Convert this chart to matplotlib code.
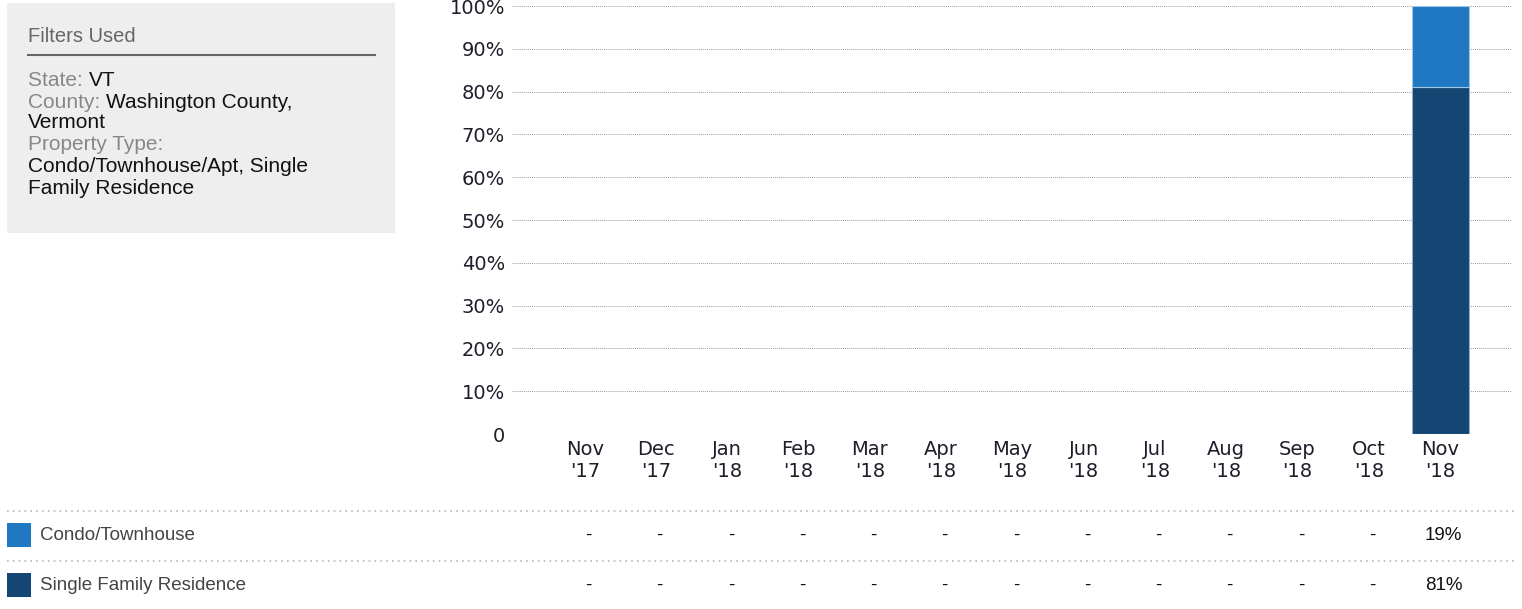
import numpy as np
import matplotlib
matplotlib.use("Agg")
import matplotlib.pyplot as plt
from matplotlib.patches import Rectangle
from matplotlib.transforms import blended_transform_factory

months = ["Nov\n'17", "Dec\n'17", "Jan\n'18", "Feb\n'18", "Mar\n'18", "Apr\n'18",
          "May\n'18", "Jun\n'18", "Jul\n'18", "Aug\n'18", "Sep\n'18", "Oct\n'18", "Nov\n'18"]
condo = [np.nan] * 12 + [19]
single = [np.nan] * 12 + [81]
series_names = ["Condo/Townhouse", "Single Family Residence"]
series_colors = ["#1f78c1", "#144673"]
yticks = [0, 10, 20, 30, 40, 50, 60, 70, 80, 90, 100]
ytick_labels = ["0"] + [f"{v}%" for v in yticks[1:]]

filters = [("State: ", "VT"),
           ("County: ", "Washington County,"),
           ("", "Vermont"),
           ("Property Type:", ""),
           ("", "Condo/Townhouse/Apt, Single"),
           ("", "Family Residence")]

W, H = 1522, 609
fig = plt.figure(figsize=(W / 100, H / 100), dpi=100)

# main chart area
ax = fig.add_axes([512 / W, 1 - 434 / H, 1000 / W, 428 / H])
x = np.arange(len(months))
single_arr = np.array(single, dtype=float)
condo_arr = np.array(condo, dtype=float)
has = ~np.isnan(single_arr)
ax.bar(x[has], single_arr[has], width=0.8, color=series_colors[1],
       edgecolor="#8fb0cc", linewidth=0.8, zorder=3)
ax.bar(x[has], condo_arr[has], bottom=single_arr[has], width=0.8,
       color=series_colors[0], edgecolor="#9ec6e6", linewidth=0.8, zorder=3)

ax.set_xlim(-1.02, 13.01)
ax.set_ylim(0, 100)
ax.set_yticks(yticks)
ax.set_yticklabels(ytick_labels)
ax.set_xticks(x)
ax.set_xticklabels(months)
ax.tick_params(axis="both", length=0, labelsize=14, colors="#1e1e2a")
ax.tick_params(axis="y", pad=5)
ax.tick_params(axis="x", pad=4)
for lab in ax.get_xticklabels() + ax.get_yticklabels():
    lab.set_family("DejaVu Sans")
ax.grid(axis="y", color="#a0a0a0", linestyle=(0, (1, 1)), linewidth=0.7, zorder=0)
ax.set_axisbelow(True)
for s in ax.spines.values():
    s.set_visible(False)
ax.patch.set_alpha(0)

# filter panel
fig.patches.append(Rectangle((7 / W, 1 - 233 / H), 388 / W, 230 / H,
                             transform=fig.transFigure, facecolor="#eeeeee",
                             edgecolor="none", zorder=0))
fig.text(28 / W, 1 - 37 / H, "Filters Used", fontsize=14.5, color="#666666",
         family="Liberation Sans", va="center", ha="left")
fig.add_artist(plt.Line2D([28 / W, 375 / W], [1 - 55 / H, 1 - 55 / H],
                          transform=fig.transFigure, color="#666666", linewidth=1.5))
row_y = [80, 102, 122, 145, 167, 189]
renderer = fig.canvas.get_renderer()
for (lab, val), yy in zip(filters, row_y):
    xpos = 28 / W
    if lab:
        t = fig.text(xpos, 1 - yy / H, lab, fontsize=15, color="#888888",
                     family="Liberation Sans", va="center", ha="left")
        bb = t.get_window_extent(renderer=renderer)
        xpos = bb.x1 / W
    if val:
        fig.text(xpos, 1 - yy / H, val, fontsize=15, color="#111111",
                 family="Liberation Sans", va="center", ha="left")

# data table below the chart
tr = blended_transform_factory(ax.transData, fig.transFigure)
for ly in [511, 561]:
    fig.add_artist(plt.Line2D([7 / W, 1515 / W], [1 - ly / H, 1 - ly / H],
                              transform=fig.transFigure, color="#b8b8b8",
                              linestyle=(0, (1, 2.5)), linewidth=1.2))
table_rows = [condo, single]
for i, (name, color, vals) in enumerate(zip(series_names, series_colors, table_rows)):
    ry = 535 + 50 * i
    fig.patches.append(Rectangle((7 / W, 1 - (ry + 12) / H), 24 / W, 24 / H,
                                 transform=fig.transFigure, facecolor=color,
                                 edgecolor="none"))
    fig.text(40 / W, 1 - ry / H, name, fontsize=13.5, color="#444444",
             family="Liberation Sans", va="center", ha="left")
    for j, v in enumerate(vals):
        txt = "-" if np.isnan(v) else f"{v:.0f}%"
        fig.text(j + 0.05, 1 - ry / H, txt, transform=tr, fontsize=13.5, color="#111111",
                 family="Liberation Sans", va="center", ha="center")

fig.savefig("out.png", dpi=100)
